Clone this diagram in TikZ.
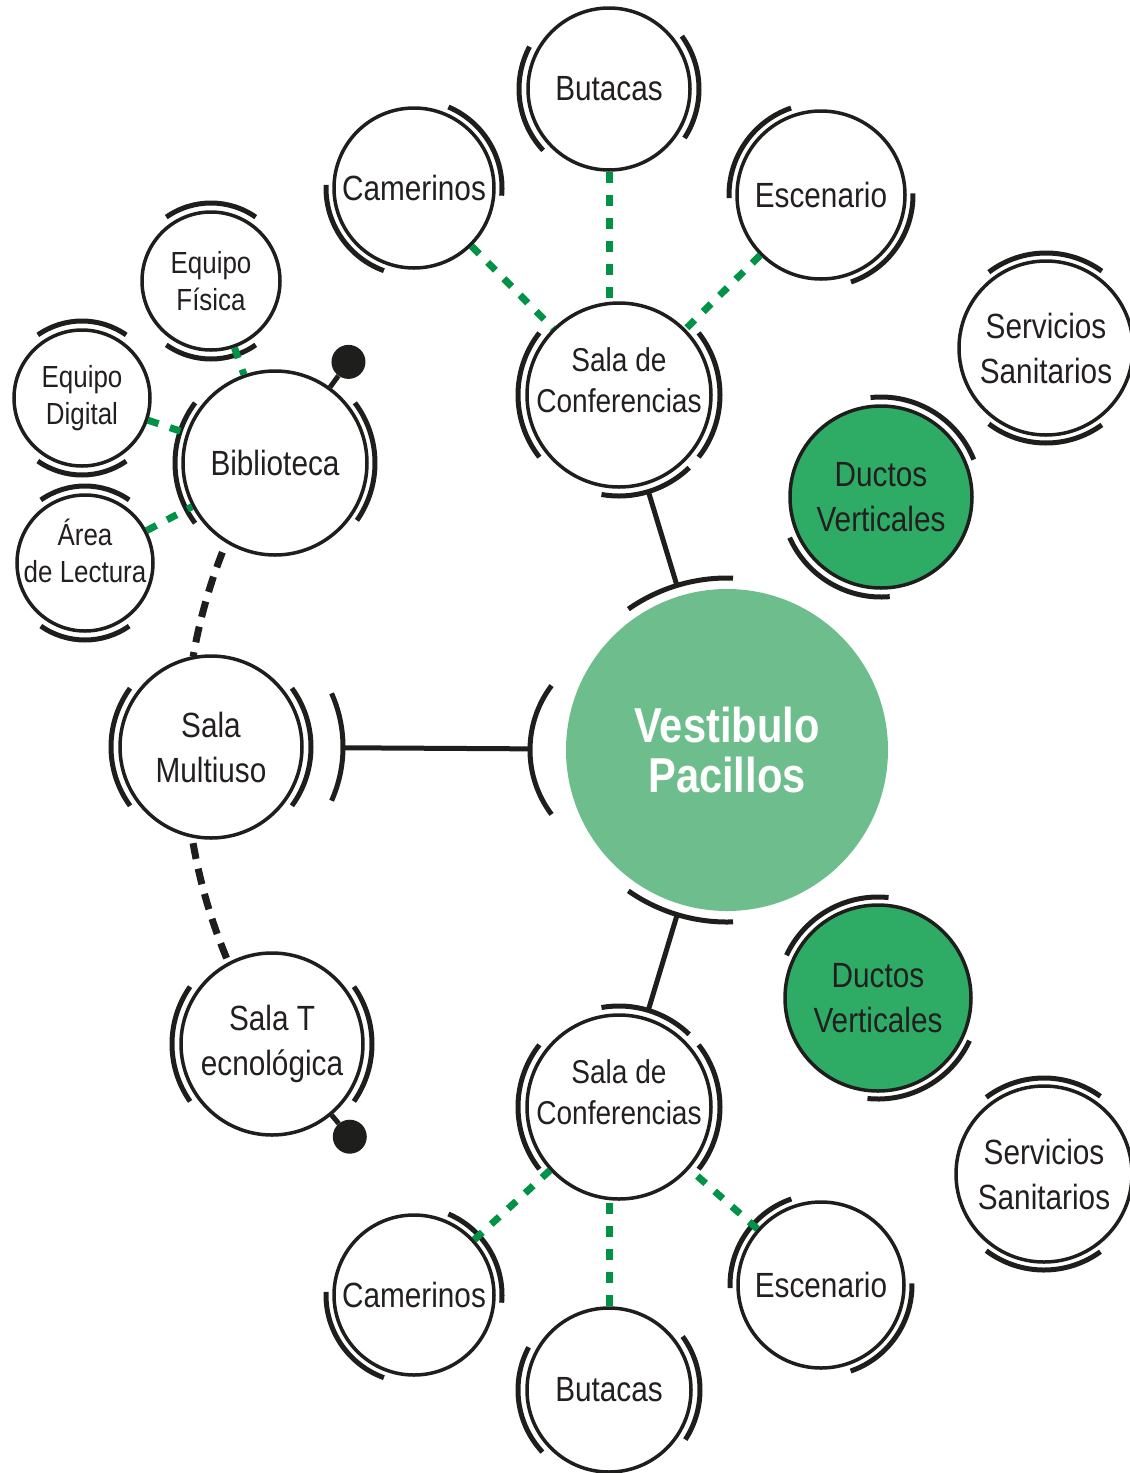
\documentclass[tikz,border=0pt]{standalone}
\usepackage{fontspec}
\setmainfont{Liberation Sans}[FakeStretch=0.85]
\usepackage{tikz}
\usetikzlibrary{calc}

\definecolor{ink}{RGB}{30,30,28}
\definecolor{txt}{RGB}{35,31,32}
\definecolor{vestgreen}{RGB}{109,190,140}
\definecolor{ductgreen}{RGB}{46,172,102}
\definecolor{dashgreen}{RGB}{0,146,69}

\begin{document}
\begin{tikzpicture}[
		x=1pt, y=1pt,
		% Room circles
		room/.style={
			circle,
			draw=ink,
			line width=3.5pt,
			fill=white,
			minimum size=2*#1,
			inner sep=0pt,
			align=center,
			text=txt,
			font=\fontsize{35}{45}\selectfont
		},
		small/.style={font=\fontsize{30.5}{37}\selectfont},
		duct/.style={room=#1, fill=ductgreen},
		% Raised room text
		lift/.style={align=center, yshift=#1, text=txt},
		salatext/.style={lift=15pt, font=\fontsize{33}{41}\selectfont},
		% Outer ring arcs and links
		ring/.style={ink, line width=5pt},
		link/.style={ink, line width=5pt},
		bdash/.style={ink, line width=7pt, dash pattern=on 16pt off 10pt},
		gdash/.style={dashgreen, line width=7pt, dash pattern=on 11pt off 12pt},
		dot/.style={circle, fill=ink, minimum size=34pt, inner sep=0pt}
		]
		
		\useasboundingbox (0,0) rectangle (1130,-1473);
		
		% --- Central hall ---
		\node[room=161, draw=none, fill=vestgreen, text=white, font=\bfseries\fontsize{49}{50}\selectfont] (vest) at (727,-750) {Vestibulo\\Pacillos};
		\coordinate (vestL) at ($(vest)+(-90,0)$);
		
		% --- Upper conference cluster ---
		\node[room=92, label={[salatext]center:{Sala de\\Conferencias}}] (salaA) at (619,-395) {};
		\node[room=81] (butacasA) at (609,-89) {Butacas};
		\node[room=80] (camerinosA) at (414,-188) {Camerinos};
		\node[room=84] (escenarioA) at (821,-195) {Escenario};
		
		% --- Lower conference cluster ---
		\node[room=92, label={[salatext]center:{Sala de\\Conferencias}}] (salaB) at (619,-1107) {};
		\node[room=82] (butacasB) at (609,-1390) {Butacas};
		\node[room=80] (camerinosB) at (414,-1295) {Camerinos};
		\node[room=83] (escenarioB) at (821,-1285) {Escenario};
		
		% --- Services ---
		\node[room=87] (servA) at (1046,-348) {Servicios\\Sanitarios};
		\node[duct=91] (ductosA) at (881,-497) {Ductos\\Verticales};
		\node[duct=93] (ductosB) at (878,-998) {Ductos\\Verticales};
		\node[room=88] (servB) at (1044,-1174) {Servicios\\Sanitarios};
		
		% --- Left wing ---
		\node[room=92] (biblio) at (275,-463) {Biblioteca};
		\node[room=69, small] (fisica) at (211,-281) {Equipo\\Física};
		\node[room=68, small] (digital) at (82,-398) {Equipo\\Digital};
		\node[room=68, small, label={[lift=12pt, small]center:{Área\\de Lectura}}] (lectura) at (85,-563) {};
		\node[room=91] (multi) at (211,-747) {Sala\\Multiuso};
		\node[room=91] (tecno) at (272,-1044) {Sala T\\ecnológica};
		
		% --- Ring arcs ---
		\foreach \n/\a/\b/\R in {
			butacasA/152/223/90, butacasA/-33/36/90,
			camerinosA/-5/67/88, camerinosA/178/250/88,
			escenarioA/109/182/92, escenarioA/-71/1/92,
			salaA/142/218/101, salaA/-38/38/101, salaA/260/314/101,
			servA/54/127/95, servA/233/306/95,
			ductosA/22/96/100, ductosA/204/275/100,
			ductosB/84/155/101, ductosB/264/335/101,
			servB/54/127/96, servB/233/306/96,
			salaB/142/218/101, salaB/-38/38/101, salaB/46/100/101,
			camerinosB/-5/67/88, camerinosB/178/250/88,
			butacasB/152/223/91, butacasB/-33/36/91,
			escenarioB/109/182/91, escenarioB/-71/1/91,
			biblio/143/217/100, biblio/-35/37/100,
			multi/144/216/100, multi/-36/36/100, multi/-24/24/132,
			tecno/145/215/100, tecno/-35/35/100,
			fisica/55/125/78, fisica/235/305/78,
			digital/55/125/77, digital/235/305/77,
			lectura/55/125/77, lectura/235/305/77,
			vest/88/125/172, vest/235/272/172, vestL/143/217/107}
		\draw[ring] ([shift={(\a:\R)}]\n.center) arc[start angle=\a, end angle=\b, radius=\R];
		
		% --- Main links ---
		\draw[link] ($(salaA)!101pt!(vest)$) -- ($(vest)!172pt!(salaA)$);
		\draw[link] ($(salaB)!101pt!(vest)$) -- ($(vest)!172pt!(salaB)$);
		\draw[link] ($(multi)!132pt!(vest)$) -- ($(vest)!197pt!(multi)$);
		
		% --- Green dashed links ---
		\draw[gdash] (butacasA.south) -- (butacasA.south |- salaA.north);
		\draw[gdash] (camerinosA) -- (salaA);
		\draw[gdash] (escenarioA) -- (salaA);
		\draw[gdash] (butacasB.north) -- (butacasB.north |- salaB.south);
		\draw[gdash] (camerinosB) -- (salaB);
		\draw[gdash] (escenarioB) -- (salaB);
		\draw[gdash] (fisica) -- (biblio);
		\draw[gdash] (digital) -- (biblio);
		\draw[gdash] (lectura) -- (biblio);
		
		% --- Black dashed links (on a ring round the hall) ---
		\draw[bdash] ([shift={(158.6:542)}]vest.center) arc[start angle=158.6, end angle=170.1, radius=542];
		\draw[bdash] ([shift={(189.9:542)}]vest.center) arc[start angle=189.9, end angle=202.6, radius=542];
		
		% --- Access points ---
		\node[dot] (dotA) at ($(biblio)+(54:125)$) {};
		\node[dot] (dotB) at ($(tecno)+(-50:121)$) {};
		\draw[link] (biblio) -- (dotA);
		\draw[link] (tecno) -- (dotB);
		
	\end{tikzpicture}
\end{document}
